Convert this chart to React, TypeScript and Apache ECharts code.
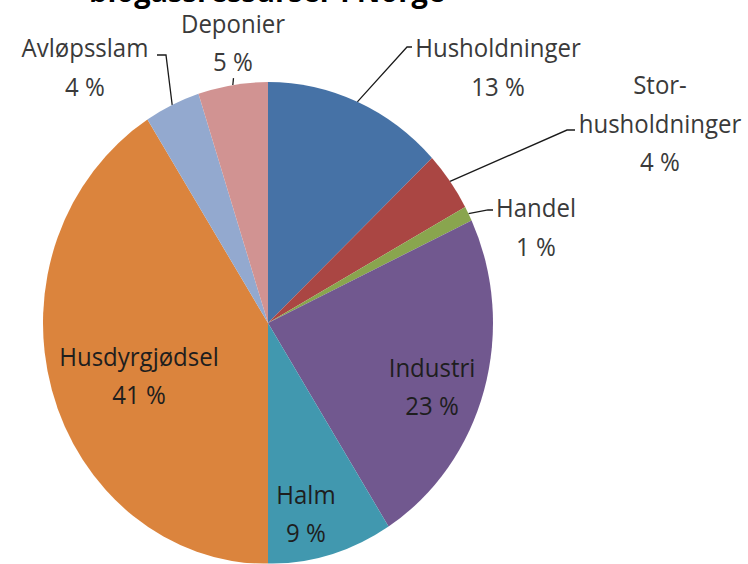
import React, { useEffect, useRef } from 'react';
import * as echarts from 'echarts';

// ---- data ----
const categories = ['Husholdninger', 'Storhusholdninger', 'Handel', 'Industri', 'Halm', 'Husdyrgjødsel', 'Avløpsslam', 'Deponier'];
const labelTexts = ['Husholdninger', 'Stor-\nhusholdninger', 'Handel', 'Industri', 'Halm', 'Husdyrgjødsel', 'Avløpsslam', 'Deponier'];
const values = [13, 4, 1, 23, 9, 41, 4, 5];
const colors = ['#4672A6', '#AA4643', '#89A54E', '#71588F', '#4198AF', '#DB843D', '#93A9CF', '#D19392'];
const titleText = 'biogassressurser i Norge';

// ---- layout (unscaled coordinates; chart is stretched vertically by SY) ----
const SY = 241 / 225;
const W = 748;
const H = 526;
const FONT = 'Open Sans';
const LH = 36;

type Lay = { x: number; y: number; inside?: boolean; line?: number[][] };
const layout: Lay[] = [
  { x: 498, y: 25.9, line: [[407, 43.9], [412, 43.9]] },
  { x: 660, y: 60.4, line: [[567, 121.4], [575, 121.4]] },
  { x: 536, y: 175.3, line: [[488, 196], [493, 196]] },
  { x: 432, y: 360, inside: true },
  { x: 306, y: 478.5, inside: true },
  { x: 139, y: 350, inside: true },
  { x: 85, y: 25.9, line: [[166, 51.4], [157, 51.4]] },
  { x: 233, y: 3, line: [[233.5, 73], [233.5, 73]] },
];

export default function App() {
  const ref = useRef<HTMLDivElement>(null);
  useEffect(() => {
    document.documentElement.style.overflow = 'hidden';
    const chart = echarts.init(ref.current!, null, { renderer: 'svg', width: W, height: H });
    const data = categories.map((name, i) => ({
      name,
      value: values[i],
      itemStyle: { color: colors[i] },
      label: {
        position: layout[i].inside ? 'inside' : 'outside',
        color: layout[i].inside ? '#1e1e1e' : '#3a3a3a',
      },
      labelLine: { show: !layout[i].inside },
    }));
    chart.setOption({
      animation: false,
      backgroundColor: '#ffffff',
      graphic: [
        {
          type: 'text',
          x: 267,
          y: -9,
          style: {
            text: titleText,
            font: `bold 29px "${FONT}"`,
            lineHeight: 20,
            fill: '#000',
            align: 'center',
            verticalAlign: 'middle',
          },
        },
      ],
      series: [
        {
          type: 'pie',
          center: [268, 301.6],
          radius: 225,
          startAngle: 90,
          clockwise: true,
          avoidLabelOverlap: false,
          itemStyle: { borderWidth: 0 },
          label: {
            show: true,
            fontFamily: FONT,
            fontSize: 24,
            lineHeight: LH,
            align: 'center',
            formatter: (p: any) => `${labelTexts[p.dataIndex]}\n${p.value} %`,
          },
          labelLine: {
            show: true,
            lineStyle: { color: '#1a1a1a', width: 1.3 },
            length: 10,
            length2: 5,
          },
          labelLayout: (p: any) => {
            const L = layout[p.dataIndex];
            const res: any = {
              x: L.x,
              y: L.y,
              align: 'center',
              verticalAlign: L.inside ? 'middle' : 'top',
            };
            if (!L.inside && p.labelLinePoints) {
              res.labelLinePoints = [p.labelLinePoints[0], L.line![0], L.line![1]];
            }
            return res;
          },
          data,
        },
      ],
    });
    return () => chart.dispose();
  }, []);
  return (
    <div
      ref={ref}
      style={{
        position: 'absolute',
        left: 0,
        top: 0,
        width: W,
        height: H,
        transform: `scaleY(${SY})`,
        transformOrigin: '0 0',
        background: '#fff',
      }}
    />
  );
}
